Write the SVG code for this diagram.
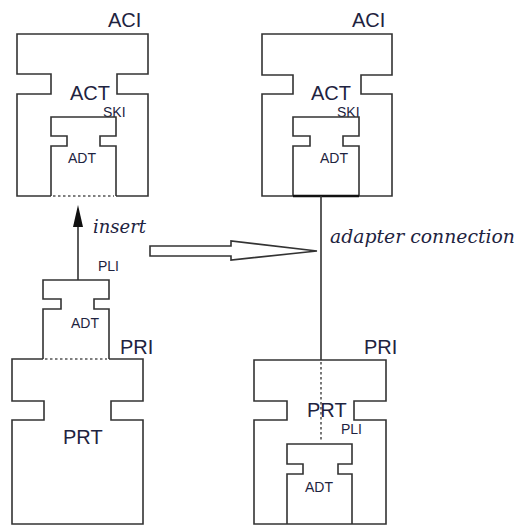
<svg xmlns="http://www.w3.org/2000/svg" width="520" height="525" viewBox="0 0 520 525">
<style>
.s{fill:none;stroke:#333;stroke-width:1.6;stroke-linejoin:miter}
.d{fill:none;stroke:#555;stroke-width:1.6;stroke-dasharray:2.5 2.5}
.big{font-family:"Liberation Sans",Arial,sans-serif;font-size:20px;fill:#1e2340}
.sm{font-family:"Liberation Sans",Arial,sans-serif;font-size:14px;fill:#1e2340}
.it{font-family:"DejaVu Serif",serif;font-style:italic;font-size:18.5px;fill:#1e2340}
</style>
<rect width="520" height="525" fill="#fff"/>
<g id="left-aci">
<path class="s" d="M51,196 L17,196 L17,94 L51,94 L51,74 L17,74 L17,34 L148,34 L148,74 L117,74 L117,94 L148,94 L148,196 L116,196"/>
<text class="big" x="108" y="27">ACI</text>
<text class="big" x="70" y="100">ACT</text>
<text class="sm" x="103" y="117">SKI</text>
</g>
<g id="left-aci-adt">
<path class="s" d="M51,196 L51,146 L67,146 L67,136 L51,136 L51,117 L116,117 L116,136 L100,136 L100,146 L116,146 L116,196"/>
<line class="d" x1="53" y1="196" x2="114" y2="196"/>
<text class="sm" x="68" y="163">ADT</text>
</g>
<g id="right-aci">
<path class="s" d="M262,196 L262,94 L293,94 L293,75 L262,75 L262,34 L392,34 L392,75 L361,75 L361,94 L392,94 L392,196 Z"/>
<text class="big" x="352" y="27">ACI</text>
<text class="big" x="311" y="100">ACT</text>
<text class="sm" x="337" y="117">SKI</text>
</g>
<g id="right-aci-adt">
<path class="s" d="M293,196 L293,146 L310,146 L310,136 L293,136 L293,117 L359,117 L359,136 L343,136 L343,146 L359,146 L359,196"/>
<line x1="293" y1="196" x2="359" y2="196" stroke="#111" stroke-width="2.6"/>
<text class="sm" x="320" y="163">ADT</text>
</g>
<g id="left-adt">
<path class="s" d="M43,359 L43,309 L61,309 L61,299 L43,299 L43,280 L109,280 L109,299 L94,299 L94,309 L109,309 L109,359"/>
<line class="d" x1="45" y1="359" x2="107" y2="359"/>
<text class="sm" x="98" y="271">PLI</text>
<text class="sm" x="71" y="328">ADT</text>
</g>
<g id="left-prt">
<path class="s" d="M43,359 L12,359 L12,401 L44,401 L44,420 L12,420 L12,524 L143,524 L143,420 L111,420 L111,401 L143,401 L143,359 L109,359"/>
<text class="big" x="120" y="354">PRI</text>
<text class="big" x="63" y="444">PRT</text>
</g>
<g id="right-prt">
<path class="s" d="M254,360 L386,360 L386,401 L354,401 L354,420 L386,420 L386,524 L254,524 L254,420 L287,420 L287,401 L254,401 Z"/>
<text class="big" x="364" y="354">PRI</text>
<text class="big" x="307" y="417">PRT</text>
<text class="sm" x="341" y="434">PLI</text>
</g>
<g id="right-prt-adt">
<path class="s" d="M287,524 L287,474 L303,474 L303,464 L287,464 L287,444 L352,444 L352,464 L338,464 L338,474 L352,474 L352,524"/>
<text class="sm" x="305" y="492">ADT</text>
</g>
<g id="connectors">
<line class="s" x1="78" y1="280" x2="78" y2="224"/>
<polygon points="73,227 83,227 78,205" fill="#111"/>
<text class="it" x="93" y="233" textLength="53" lengthAdjust="spacingAndGlyphs">insert</text>
<polygon points="150,246 231,246 231,241 317,251 231,260 231,256 150,256" fill="#fff" stroke="#333" stroke-width="1.6"/>
<line class="s" x1="321" y1="196" x2="321" y2="360"/>
<line class="d" x1="321" y1="362" x2="321" y2="442"/>
<text class="it" x="330" y="243" textLength="185" lengthAdjust="spacingAndGlyphs">adapter connection</text>
</g>
</svg>
